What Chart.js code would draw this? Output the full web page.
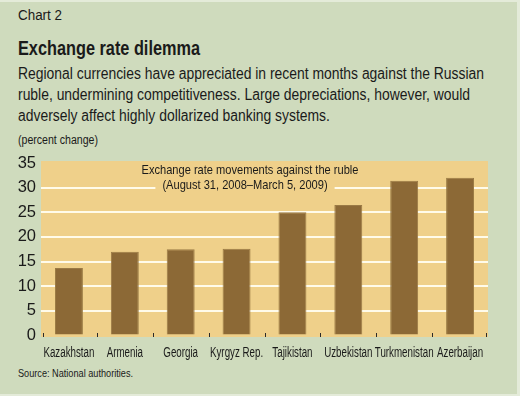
<!DOCTYPE html>
<html>
<head>
<meta charset="utf-8">
<script src="https://cdn.jsdelivr.net/npm/chart.js@4.4.0/dist/chart.umd.min.js"></script>
<style>
  html, body { margin: 0; padding: 0; }
  body { width: 520px; height: 396px; background: #e4ebd9; position: relative; overflow: hidden;
         font-family: "Liberation Sans", Arial, sans-serif; color: #1a1a1a; }
  #panel { position: absolute; left: 0; top: 2px; width: 517px; height: 392px; background: #cfdbbd; }
  .txt { position: absolute; left: 18px; white-space: nowrap; transform-origin: 0 0; }
  #kicker { top: 6px; font-size: 15.5px; }
  #title { top: 37px; font-size: 19.5px; font-weight: bold; }
  .desc { font-size: 16px; }
  #d1 { top: 65px; }
  #d2 { top: 86px; }
  #d3 { top: 107px; }
  #unit { top: 133px; font-size: 12.5px; }
  #source { top: 367px; font-size: 11.5px; }
  #wrap { position: absolute; left: 0; top: 0; width: 520px; height: 396px; }
</style>
</head>
<body>
<div id="panel"></div>
<div class="txt" id="kicker" data-w="44">Chart 2</div>
<div class="txt" id="title" data-w="182">Exchange rate dilemma</div>
<div class="txt desc" id="d1" data-w="466">Regional currencies have appreciated in recent months against the Russian</div>
<div class="txt desc" id="d2">ruble, undermining competitiveness. Large depreciations, however, would</div>
<div class="txt desc" id="d3">adversely affect highly dollarized banking systems.</div>
<div class="txt" id="unit" data-w="80">(percent change)</div>
<div class="txt" id="source" data-w="115">Source: National authorities.</div>
<div id="wrap"><canvas id="chart" width="520" height="396"></canvas></div>
<script>
const countries = ["Kazakhstan", "Armenia", "Georgia", "Kyrgyz Rep.", "Tajikistan", "Uzbekistan", "Turkmenistan", "Azerbaijan"];
const changes = [13.7, 17.0, 17.5, 17.6, 25.0, 26.5, 31.4, 32.0];
const yTicks = [0, 5, 10, 15, 20, 25, 30, 35];
const noteLines = ["Exchange rate movements against the ruble", "(August 31, 2008\u2013March 5, 2009)"];

const fontFamily = '"Liberation Sans", Arial, sans-serif';
const plotBg = "#efd08a";
const ink = "#1a1a1a";

// squeeze the html text to the condensed widths of the original
function squeeze(el, target) {
    const w = el.getBoundingClientRect().width;
    const s = target / w;
    el.style.transform = "scaleX(" + s + ")";
    return s;
}
document.querySelectorAll(".txt[data-w]").forEach(el => {
    const s = squeeze(el, +el.dataset.w);
    if (el.id === "d1") {
        document.getElementById("d2").style.transform = "scaleX(" + s + ")";
        document.getElementById("d3").style.transform = "scaleX(" + s + ")";
    }
});

function narrowText(ctx, text, x, y, sx) {
    ctx.save();
    ctx.translate(x, y);
    ctx.scale(sx, 1);
    ctx.fillText(text, 0, 0);
    ctx.restore();
}

const decor = {
    id: "decor",
    beforeDraw(chart) {
        const a = chart.chartArea;
        const ctx = chart.ctx;
        ctx.save();
        ctx.fillStyle = plotBg;
        ctx.fillRect(a.left, a.top, a.right - a.left, a.bottom - a.top);
        ctx.restore();
    },
    beforeDatasetsDraw(chart) {
        const a = chart.chartArea;
        const ctx = chart.ctx;
        ctx.save();
        ctx.font = "13.5px " + fontFamily;
        ctx.textAlign = "center";
        ctx.textBaseline = "middle";
        const sx = 217 / ctx.measureText(noteLines[0]).width;
        const w2 = ctx.measureText(noteLines[1]).width * sx;
        const cx1 = a.left + 209;
        const cx2 = a.left + 204;
        ctx.fillStyle = plotBg;
        ctx.fillRect(cx2 - w2 / 2 - 7, a.top + 17, w2 + 14, 14);
        ctx.fillStyle = ink;
        narrowText(ctx, noteLines[0], cx1, a.top + 9.5, sx);
        narrowText(ctx, noteLines[1], cx2, a.top + 24.5, sx);

        // small ticks between the categories at the foot of the plot
        const x = chart.scales.x;
        const half = (x.getPixelForValue(1) - x.getPixelForValue(0)) / 2;
        ctx.strokeStyle = "#2a2a2a";
        ctx.lineWidth = 1;
        for (let i = 0; i <= countries.length; i++) {
            const px = Math.round(x.getPixelForValue(i) - half) + 0.5;
            const xx = Math.min(Math.max(px, a.left + 2.5), a.right - 1.5);
            ctx.beginPath();
            ctx.moveTo(xx, a.bottom - 4);
            ctx.lineTo(xx, a.bottom);
            ctx.stroke();
        }
        ctx.restore();
    },
    afterDraw(chart) {
        // category labels, drawn at the x scale's positions in a condensed width
        const a = chart.chartArea;
        const ctx = chart.ctx;
        const x = chart.scales.x;
        ctx.save();
        ctx.font = "14px " + fontFamily;
        ctx.textAlign = "center";
        ctx.textBaseline = "middle";
        ctx.fillStyle = ink;
        const sx = 51 / ctx.measureText(countries[0]).width;
        countries.forEach((c, i) => narrowText(ctx, c, x.getPixelForValue(i), a.bottom + 16, sx));
        ctx.restore();
    }
};

const ctx = document.getElementById("chart").getContext("2d");
new Chart(ctx, {
    type: "bar",
    data: {
        labels: countries,
        datasets: [{
            data: changes,
            backgroundColor: "#8c6936",
            borderColor: "#9a7a45",
            borderWidth: 1,
            borderSkipped: "bottom",
            barPercentage: 0.5,
            categoryPercentage: 1
        }]
    },
    plugins: [decor],
    options: {
        responsive: false,
        animation: false,
        layout: { padding: { top: 161, right: 32, left: 0, bottom: 0 } },
        plugins: {
            legend: { display: false },
            tooltip: { enabled: false }
        },
        scales: {
            x: {
                border: { display: false },
                grid: { display: false },
                ticks: { display: false },
                afterFit(scale) { scale.height = 59; }
            },
            y: {
                min: -0.3,
                max: 35.4,
                border: { display: false },
                afterBuildTicks(scale) { scale.ticks = yTicks.map(v => ({ value: v })); },
                grid: {
                    drawTicks: false,
                    lineWidth: 2,
                    color: c => (c.tick && c.tick.value > 0 && c.tick.value < 35) ? "#fffbea" : "rgba(0,0,0,0)"
                },
                ticks: {
                    color: ink,
                    font: { family: fontFamily, size: 16.5 },
                    padding: 5
                },
                afterFit(scale) { scale.width = 41; }
            }
        }
    }
});
</script>
</body>
</html>
